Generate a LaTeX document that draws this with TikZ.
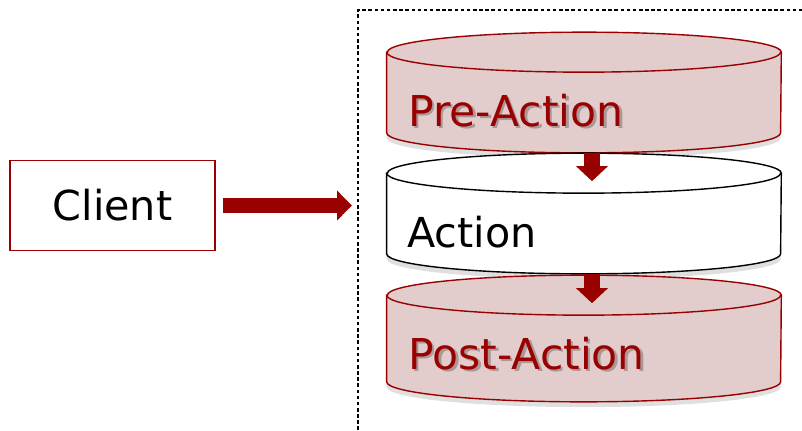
\documentclass[tikz,border=0pt]{standalone}
\usepackage{fontspec}
\setmainfont{DejaVu Sans}
\usetikzlibrary{arrows.meta,positioning,shadows}

\definecolor{darkred}{HTML}{990000}
\definecolor{rose}{HTML}{E3CCCC}

% upright drum drawn round a (rectangular) node: #1 node, #2 path style
\newcommand{\drumshape}[2]{%
  \path[#2,drop shadow={shadow xshift=0pt,shadow yshift=-3pt,opacity=0.25}]
    ([yshift=-0.4cm]#1.north west) -- ([yshift=0.4cm]#1.south west)
    arc[start angle=180,end angle=360,x radius=3.94cm,y radius=0.4cm]
    -- ([yshift=-0.4cm]#1.north east)
    arc[start angle=0,end angle=180,x radius=3.94cm,y radius=0.4cm] -- cycle;
  \path[#2,fill=none] ([yshift=-0.4cm]#1.north west)
    arc[start angle=180,end angle=360,x radius=3.94cm,y radius=0.4cm];}

\begin{document}
\begin{tikzpicture}[x=0.02cm,y=-0.02cm,
  label/.style={font=\fontsize{23.5}{28}\selectfont,inner sep=0pt,anchor=base west},
  redlabel/.style={label,text=darkred,font=\fontsize{24.2}{29}\selectfont},
  ghost/.style={redlabel,text=black,opacity=0.25},
  drum/.style={inner sep=0pt,minimum width=7.88cm,minimum height=2.4cm},
  reddrum/.style={draw=darkred,thick,fill=rose},
  whitedrum/.style={draw=black,thick,fill=white},
  fatarrow/.style={darkred,line width=8.5pt,-{Triangle[length=8.5pt,width=16.5pt]}},
  downarrow/.style={darkred,line width=9.6pt,-{Triangle[length=8.5pt,width=17.6pt]}}]
\useasboundingbox (0,0) rectangle (802,430);

% Frame round the handler chain
\draw[semithick,dash pattern=on 2pt off 1.5pt] (358,430) -- (358,10) -- (802,10);

% Caller
\node[draw=darkred,thick,minimum width=4.1cm,minimum height=1.8cm,
  font=\fontsize{23.5}{28}\selectfont] (client) at (112.5,205.5) {Client};
\coordinate (entry) at (352,205.5);
\draw[fatarrow] ([xshift=0.14cm]client.east) -- (entry);

% Stages
\node[drum] (pre) at (584,92.5) {};
\node[drum] (act) at (584,213.5) {};
\node[drum,minimum height=2.52cm] (post) at (584,338.5) {};
\drumshape{pre}{reddrum}
\drumshape{act}{whitedrum}
\drumshape{post}{reddrum}

\node[ghost] (preshade) at (410.5,128.5) {Pre-Action};
\node[redlabel] (pretext) at (408,126) {Pre-Action};
\node[label] (acttext) at (407,247) {Action};
\node[ghost] (postshade) at (410.5,371.5) {Post-Action};
\node[redlabel] (posttext) at (408,369) {Post-Action};

% Flow between stages
\draw[downarrow] ([xshift=0.16cm]pre.south) -- ([xshift=0.16cm,yshift=-0.56cm]act.north);
\draw[downarrow] ([xshift=0.16cm]act.south) -- ([xshift=0.16cm,yshift=-0.56cm]post.north);
\end{tikzpicture}
\end{document}
